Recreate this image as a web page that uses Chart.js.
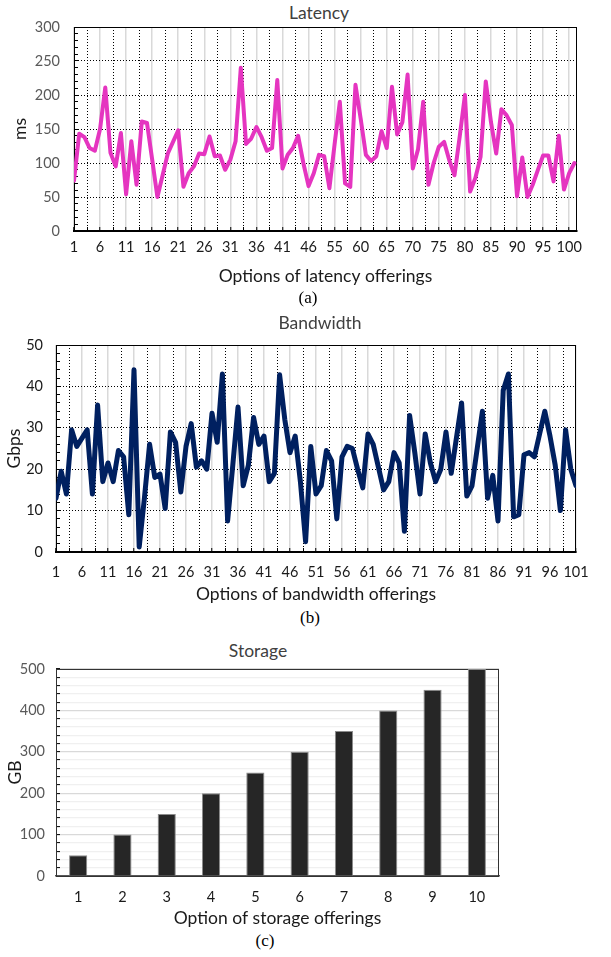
<!DOCTYPE html>
<html>
<head>
<meta charset="utf-8">
<script src="https://cdn.jsdelivr.net/npm/chart.js@4.4.1/dist/chart.umd.min.js"></script>
<style>
  body { margin: 0; background: #fff; }
  #page { position: relative; width: 611px; height: 957px; font-family: Lato, sans-serif; }
  canvas { position: absolute; left: 0; }
  .ttl { position: absolute; transform: translate(-50%, -50%); font-size: 17.5px; color: #404040; white-space: nowrap; }
  .cap { position: absolute; transform: translate(-50%, -50%); font-family: "Liberation Serif", serif; font-size: 17px; color: #000; }
</style>
</head>
<body>
<div id="page">
  <div class="ttl" style="left:319px;top:12px">Latency</div>
  <canvas id="latChart" width="611" height="290" style="top:0"></canvas>
  <div class="cap" style="left:308px;top:298px">(a)</div>

  <div class="ttl" style="left:320px;top:322px">Bandwidth</div>
  <canvas id="bwChart" width="611" height="300" style="top:305px"></canvas>
  <div class="cap" style="left:310px;top:618px">(b)</div>

  <div class="ttl" style="left:258px;top:650px">Storage</div>
  <canvas id="stChart" width="611" height="300" style="top:630px"></canvas>
  <div class="cap" style="left:265px;top:941px">(c)</div>
</div>

<script>
// latency offerings (ms), one value per option
const latencyMs = [74, 143, 138, 122, 118, 150, 211, 115, 95, 144,
  54, 132, 68, 161, 159, 105, 50, 82, 114, 131,
  148, 65, 85, 95, 114, 113, 139, 110, 111, 90,
  105, 132, 240, 128, 136, 153, 138, 118, 122, 222,
  92, 112, 122, 140, 100, 66, 85, 112, 110, 63,
  128, 190, 70, 65, 215, 165, 112, 103, 110, 147,
  122, 212, 142, 160, 230, 92, 120, 190, 68, 100,
  124, 131, 104, 82, 139, 200, 58, 78, 109, 220,
  160, 114, 179, 170, 156, 51, 108, 50, 68, 90,
  111, 111, 73, 140, 61, 85, 100];
const latencyTicks = ['1', '6', '11', '16', '21', '26', '31', '36', '41', '46',
  '55', '60', '65', '70', '75', '80', '85', '90', '95', '100'];

// bandwidth offerings (Gbps)
const bandwidthGbps = [13, 19.5, 14, 29.5, 25.5, 27.5, 29.5, 14, 35.5, 17,
  21.5, 17, 24.5, 23, 9, 44, 1.2, 13, 26, 18,
  18.8, 10.5, 29, 26.5, 14.5, 25.5, 31, 20.5, 22, 20,
  33.5, 26.5, 43, 7.5, 21, 35, 16, 21, 32.5, 26,
  28, 17, 19, 42.8, 32, 24, 28, 17, 2.5, 25.5,
  14, 16, 24.5, 22, 8, 23, 25.5, 25, 20, 15.5,
  28.5, 26, 20.5, 15, 17, 24, 21.5, 5, 33, 24,
  14, 28.5, 21.5, 17, 20, 29, 19, 27.5, 36, 13.5,
  16, 25, 34, 13, 18.5, 7.5, 39, 43, 8.5, 9,
  23.5, 24, 23, 28.5, 34, 28, 21, 10, 29.5, 20,
  16];
const bandwidthTicks = ['1', '6', '11', '16', '21', '26', '31', '36', '41', '46', '51',
  '56', '61', '66', '71', '76', '81', '86', '91', '96', '101'];

// storage offerings (GB)
const storageOptions = ['1', '2', '3', '4', '5', '6', '7', '8', '9', '10'];
const storageGB = [50, 100, 150, 200, 250, 300, 350, 400, 450, 500];

const tickFont = { family: 'Lato', size: 14.5 };
const titleFont = { family: 'Lato', size: 17.5 };
const greyText = '#595959';
const darkText = '#1a1a1a';
const TL = -4; // tick marks point into the plot

// box round the plot area
const frame = {
  id: 'frame',
  beforeDatasetsDraw(chart, args, opts) {
    const { ctx, chartArea: a } = chart;
    ctx.save();
    ctx.strokeStyle = opts.color || '#000';
    ctx.lineWidth = 1;
    ctx.strokeRect(a.left + 0.5, a.top + 0.5, a.right - a.left - 1, a.bottom - a.top);
    ctx.restore();
  }
};

const fixBox = (w, h) => s => {
  if (w != null) s.width = w;
  if (h != null) s.height = h;
  s.paddingLeft = 0; s.paddingRight = 0; s.paddingTop = 0; s.paddingBottom = 0;
};

const lineChart = (id, values, ticks, xMax, opt) => {
  const majors = ticks.map((t, i) => i * 5);
  const minors = ticks.map((t, i) => i * 5 + 2.5).filter(v => v < xMax - 1);
  return new Chart(document.getElementById(id), {
    type: 'line',
    data: {
      datasets: [{
        data: values.map((v, i) => ({ x: i, y: v })),
        borderColor: opt.color,
        borderWidth: opt.width,
        borderJoinStyle: 'round',
        borderCapStyle: 'round',
        pointRadius: 0,
        tension: 0,
      }],
    },
    options: {
      responsive: false,
      animation: false,
      layout: { padding: { left: 0, right: opt.right, top: opt.top, bottom: 0 } },
      plugins: { legend: { display: false }, tooltip: { enabled: false }, frame: { color: '#000' } },
      scales: {
        x: {
          type: 'linear', min: 0, max: xMax, weight: 1,
          afterBuildTicks: s => { s.ticks = majors.map(v => ({ value: v })); },
          afterFit: fixBox(null, opt.xh),
          ticks: { callback: (v, i) => ticks[i], autoSkip: false, maxRotation: 0, padding: opt.xpad, color: darkText, font: tickFont },
          grid: { color: '#d9d9d9', lineWidth: 1.5, tickLength: TL, tickColor: '#000', tickWidth: 1 },
          border: { color: '#000', width: 2 },
          title: { display: true, text: opt.xtitle, color: darkText, font: titleFont, padding: { bottom: opt.xtpad, top: 0 } },
        },
        x2: {
          type: 'linear', min: 0, max: xMax, position: 'bottom', weight: 0,
          afterBuildTicks: s => { s.ticks = minors.map(v => ({ value: v })); },
          afterFit: fixBox(null, 0),
          ticks: { display: false },
          grid: { color: '#000', lineWidth: 1, tickLength: TL, tickColor: '#000' },
          border: { display: false, dash: [1, 2] },
        },
        y: {
          min: 0, max: opt.ymax,
          afterFit: fixBox(opt.yw, null),
          ticks: { stepSize: opt.yminor, autoSkip: false, padding: opt.ypad, color: opt.ycolor, font: tickFont,
            callback: v => (v % opt.ystep === 0 ? v : '') },
          grid: { color: c => (c.tick && c.tick.value % opt.ystep === 0 ? '#000' : 'rgba(0,0,0,0)'),
            lineWidth: 1, tickLength: TL, tickColor: '#000' },
          border: { color: '#000', width: 1, dash: [1, 2] },
          title: { display: true, text: opt.ytitle, color: darkText, font: titleFont, padding: { top: opt.ytpad, bottom: 0 } },
        },
      },
    },
    plugins: [frame],
  });
};

lineChart('latChart', latencyMs, latencyTicks, 96.5, {
  color: '#e535c0', width: 4, right: 34, top: 27, xh: 59, xpad: 12, xtpad: 3.5,
  yw: 74, ymax: 300, ystep: 50, yminor: 10, ypad: 18, ytpad: 9.5, ycolor: greyText,
  xtitle: 'Options of latency offerings', ytitle: 'ms',
});

lineChart('bwChart', bandwidthGbps, bandwidthTicks, 100, {
  color: '#002060', width: 5, right: 35, top: 40, xh: 53, xpad: 16, xtpad: 0.5,
  yw: 56, ymax: 50, ystep: 10, yminor: 2, ypad: 17, ytpad: 3.5, ycolor: darkText,
  xtitle: 'Options of bandwidth offerings', ytitle: 'Gbps',
});

new Chart(document.getElementById('stChart'), {
  type: 'bar',
  data: {
    labels: storageOptions,
    datasets: [{
      data: storageGB,
      backgroundColor: '#262626',
      borderColor: '#8c8c8c',
      borderWidth: 1,
      barPercentage: 0.41,
      categoryPercentage: 1,
    }],
  },
  options: {
    responsive: false,
    animation: false,
    layout: { padding: { left: 0, right: 112, top: 39, bottom: 0 } },
    plugins: { legend: { display: false }, tooltip: { enabled: false }, frame: { color: '#333' } },
    scales: {
      x: {
        afterFit: fixBox(null, 54),
        ticks: { padding: 12.5, color: darkText, font: tickFont },
        grid: { display: false, drawTicks: false },
        border: { color: '#595959', width: 1.5 },
        title: { display: true, text: 'Option of storage offerings', color: darkText, font: titleFont, padding: { bottom: 1.5, top: 0 } },
      },
      y: {
        min: 0, max: 500,
        afterFit: fixBox(56, null),
        ticks: { stepSize: 20, autoSkip: false, padding: 15, color: greyText, font: tickFont,
          callback: v => (v % 100 === 0 ? v : '') },
        grid: { color: c => (c.tick && c.tick.value % 100 === 0 ? '#d9d9d9' : '#f0f0f0'), lineWidth: 1.2,
          tickLength: TL, tickColor: '#000', tickWidth: 1 },
        border: { color: '#000', width: 1 },
        title: { display: true, text: 'GB', color: darkText, font: titleFont, padding: { top: 4.5, bottom: 0 } },
      },
    },
  },
  plugins: [frame],
});
</script>
</body>
</html>
